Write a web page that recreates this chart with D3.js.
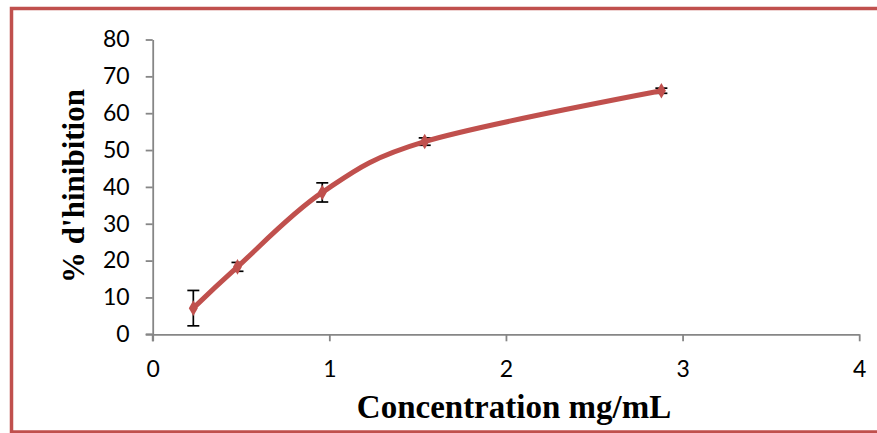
<!DOCTYPE html>
<html>
<head>
<meta charset="utf-8">
<script src="https://cdn.jsdelivr.net/npm/d3@7"></script>
<style>
  html, body { margin: 0; padding: 0; background: #fff; }
  svg { display: block; }
</style>
</head>
<body>
<script>
// Inhibition (%) versus extract concentration, with standard-deviation bars
const concentrations = [0.23, 0.48, 0.96, 1.54, 2.88];
const inhibition     = [7.1, 18.3, 38.5, 52.3, 66.1];
const stdDev         = [4.8, 1.2, 2.6, 1.0, 0.7];
const xTicks = [0, 1, 2, 3, 4];
const yTicks = [0, 10, 20, 30, 40, 50, 60, 70, 80];

const W = 877, H = 433;
const svg = d3.select("body").append("svg").attr("width", W).attr("height", H);

// Frame around the figure
svg.append("rect")
  .attr("x", 11.5).attr("y", 8.5)
  .attr("width", 900).attr("height", 423.5)
  .attr("fill", "none").attr("stroke", "#C0504D").attr("stroke-width", 3.5);

const x = d3.scaleLinear().domain([0, 4]).range([152.7, 859.2]);
const y = d3.scaleLinear().domain([0, 80]).range([334.3, 39.5]);

const axisColor = "#868686";
const tickFont = "Lato, 'Liberation Sans', sans-serif";

// Y axis
const yAxis = svg.append("g").attr("transform", `translate(${x(0)},0)`)
  .call(d3.axisLeft(y).tickValues(yTicks).tickFormat(d3.format("d"))
    .tickSize(7).tickSizeOuter(0).tickPadding(16));
// X axis
const xAxis = svg.append("g").attr("transform", `translate(0,${y(0)})`)
  .call(d3.axisBottom(x).tickValues(xTicks).tickFormat(d3.format("d"))
    .tickSize(7).tickSizeOuter(0).tickPadding(19));

[yAxis, xAxis].forEach(g => {
  g.select(".domain").attr("stroke", axisColor).attr("stroke-width", 1.8);
  g.selectAll(".tick line").attr("stroke", axisColor).attr("stroke-width", 1.8);
  g.selectAll(".tick text").attr("fill", "#000")
    .style("font-family", tickFont).style("font-size", "23px");
});
// y axis line extends slightly below the x axis
svg.append("line")
  .attr("x1", x(0)).attr("x2", x(0))
  .attr("y1", y(0)).attr("y2", y(0) + 7)
  .attr("stroke", axisColor).attr("stroke-width", 1.8);
// x axis line extends slightly left of the y axis
svg.append("line")
  .attr("x1", x(0) - 7).attr("x2", x(0))
  .attr("y1", y(0)).attr("y2", y(0))
  .attr("stroke", axisColor).attr("stroke-width", 1.8);

const pts = concentrations.map((c, i) => ({ c, v: inhibition[i], e: stdDev[i] }));

// Error bars
const eb = svg.append("g").attr("stroke", "#000").attr("stroke-width", 1.7);
pts.forEach(p => {
  eb.append("line").attr("x1", x(p.c)).attr("x2", x(p.c))
    .attr("y1", y(p.v - p.e)).attr("y2", y(p.v + p.e));
  [p.v - p.e, p.v + p.e].forEach(v => {
    eb.append("line").attr("x1", x(p.c) - 6).attr("x2", x(p.c) + 6)
      .attr("y1", y(v)).attr("y2", y(v));
  });
});

// Smoothed curve
const line = d3.line()
  .x(p => x(p.c)).y(p => y(p.v))
  .curve(d3.curveCatmullRom.alpha(0));
svg.append("path").datum(pts)
  .attr("d", line)
  .attr("fill", "none").attr("stroke", "#C0504D")
  .attr("stroke-width", 5).attr("stroke-linecap", "round");

// Markers
svg.append("g").selectAll("path").data(pts).join("path")
  .attr("transform", p => `translate(${x(p.c)},${y(p.v)})`)
  .attr("d", d3.symbol().type(d3.symbolDiamond).size(70))
  .attr("fill", "#C0504D");

// Axis titles
svg.append("text")
  .attr("x", 514).attr("y", 418)
  .attr("text-anchor", "middle")
  .style("font-family", "'Liberation Serif', 'Times New Roman', serif")
  .style("font-weight", "bold").style("font-size", "33px")
  .text("Concentration mg/mL");

svg.append("text")
  .attr("transform", "translate(84,186) rotate(-90)")
  .attr("text-anchor", "middle")
  .style("font-family", "'Liberation Serif', 'Times New Roman', serif")
  .style("font-weight", "bold").style("font-size", "31px")
  .text("% d'hinibition");
</script>
</body>
</html>
